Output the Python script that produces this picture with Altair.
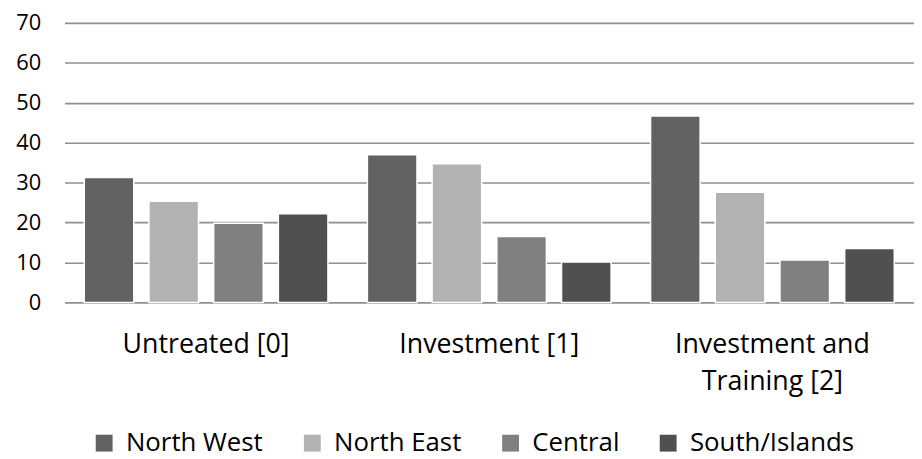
import altair as alt
import pandas as pd

groups = ["Untreated [0]", "Investment [1]", "Investment and Training [2]"]
regions = ["North West", "North East", "Central", "South/Islands"]
north_west = [31.3, 37.0, 46.7]
north_east = [25.3, 34.7, 27.6]
central = [19.8, 16.5, 10.6]
south_islands = [22.2, 10.1, 13.5]
colors = ["#626262", "#b2b2b2", "#808080", "#505050"]

rows = []
for i, g in enumerate(groups):
    for r, vals in zip(regions, [north_west, north_east, central, south_islands]):
        rows.append({"group": g, "region": r, "value": vals[i]})
df = pd.DataFrame(rows)

FONT = "Open Sans"

chart = alt.Chart(df).mark_bar(stroke="white", strokeWidth=1.5).encode(
    x=alt.X(
        "group:N",
        sort=groups,
        scale=alt.Scale(paddingInner=0, paddingOuter=0),
        axis=alt.Axis(
            title=None, labelAngle=0, ticks=False, domain=False,
            labelFontSize=27, labelFont=FONT, labelColor="#000000",
            labelPadding=30, labelLimit=400, labelLineHeight=37,
            labelExpr="datum.value == 'Investment and Training [2]' ? ['Investment and', 'Training [2]'] : datum.value",
        ),
    ),
    xOffset=alt.XOffset(
        "region:N", sort=regions,
        scale=alt.Scale(paddingInner=0.234, paddingOuter=0.305),
    ),
    y=alt.Y(
        "value:Q",
        scale=alt.Scale(domain=[0, 70]),
        axis=alt.Axis(
            title=None, values=list(range(0, 71, 10)), ticks=False, domain=False,
            labelFontSize=22, labelFont=FONT, labelColor="#000000", labelPadding=24,
            gridColor="#8f8f8f", gridWidth=1.6,
        ),
    ),
    color=alt.Color(
        "region:N", sort=regions,
        scale=alt.Scale(domain=regions, range=colors),
        legend=alt.Legend(
            title=None, orient="none", legendX=27, legendY=411, direction="horizontal",
            symbolType="square", symbolSize=289, symbolStrokeWidth=0,
            labelFontSize=26, labelFont=FONT, labelColor="#000000", labelOffset=9,
            columnPadding=36, padding=0, labelLimit=400,
        ),
    ),
).properties(
    width=857, height=282,
    autosize=alt.AutoSizeParams(type="none"),
    padding={"left": 57, "top": 13, "right": 0, "bottom": 156},
).configure_view(stroke=None)

chart.save("out.html", embed_options={"renderer": "svg", "actions": False})
